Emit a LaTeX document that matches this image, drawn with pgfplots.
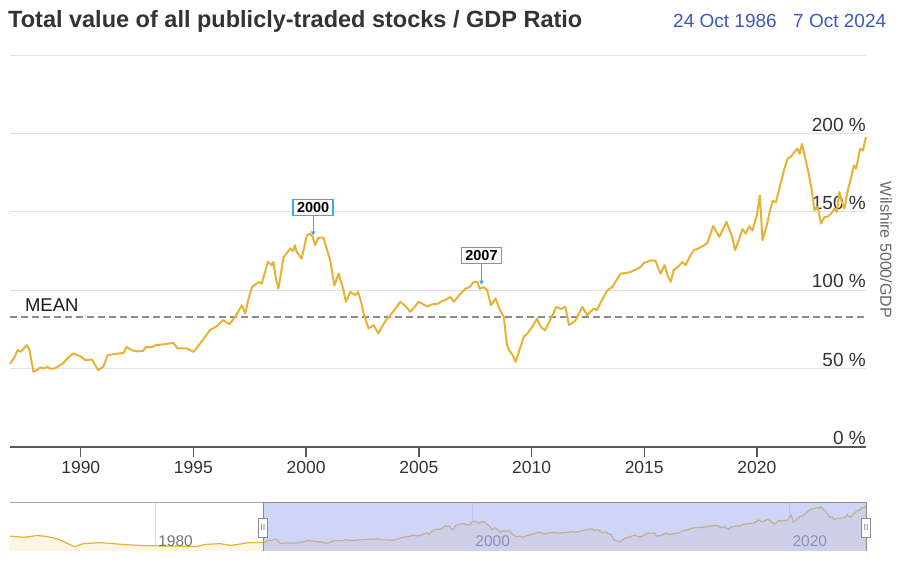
\documentclass[border=0pt]{standalone}
\usepackage{pgfplots}
\pgfplotsset{compat=1.18}
\usepackage{pgfplotstable}
\usepackage{fontspec}
\setmainfont{Liberation Sans}
\usetikzlibrary{arrows.meta}

\definecolor{gold}{RGB}{230,178,52}
\definecolor{gridc}{RGB}{226,226,226}
\definecolor{datec}{RGB}{62,88,190}
\definecolor{annc}{RGB}{60,172,222}
\definecolor{navblue}{RGB}{160,172,240}
\definecolor{navfill}{RGB}{253,246,228}
\definecolor{txt}{RGB}{51,51,51}

\pgfplotstableread{
year val
1986.86 53
1987.05 57
1987.2 61.8
1987.35 60.7
1987.6 65
1987.72 62
1987.9 48
1988.05 49
1988.2 50.8
1988.35 50
1988.5 51.2
1988.65 50
1988.85 50.1
1989.0 51.5
1989.2 53.3
1989.45 57
1989.66 59.7
1989.85 58.5
1989.96 58
1990.2 55.4
1990.5 55.8
1990.65 52
1990.77 49
1991.0 51.2
1991.2 58.6
1991.44 59.2
1991.73 59.7
1991.9 60
1992.03 63.9
1992.25 61.8
1992.5 61
1992.77 61.3
1992.9 63.9
1993.1 63.5
1993.36 65
1993.7 65.5
1994.1 66.4
1994.3 62.9
1994.7 62.9
1995.0 60.7
1995.14 63
1995.4 68
1995.73 74.5
1996.03 77
1996.3 80.9
1996.6 78.3
1996.9 84
1997.14 90.4
1997.3 85.2
1997.45 95
1997.6 102
1997.9 105.3
1998.03 104.2
1998.3 118
1998.47 116
1998.55 118
1998.65 108
1998.77 101
1999.0 121
1999.3 126.6
1999.42 125
1999.5 128.7
1999.58 124.4
1999.8 120.2
2000.03 135
2000.18 136
2000.29 134
2000.4 128.7
2000.55 133.6
2000.77 133.6
2000.9 127
2001.07 119
2001.25 103
2001.44 110.6
2001.66 100
2001.76 92.6
2001.96 98.9
2002.18 96.8
2002.3 98.9
2002.45 92
2002.55 85
2002.77 75.6
2003.0 77.7
2003.2 72.4
2003.36 76.6
2003.55 81
2003.73 84
2003.95 88
2004.18 92.6
2004.4 90
2004.62 86.2
2004.85 90
2004.99 92.6
2005.2 91
2005.36 89.6
2005.6 91
2005.88 91.5
2005.96 92.6
2006.2 94
2006.4 95.7
2006.55 92.6
2006.8 97
2007.07 101
2007.25 102
2007.44 105.3
2007.6 105.3
2007.7 101
2007.88 102
2008.03 100
2008.2 90.4
2008.4 94.7
2008.6 87.3
2008.77 83
2008.9 66
2009.0 61.8
2009.15 59
2009.3 54.3
2009.44 60.7
2009.66 70.3
2009.85 73
2010.03 76.6
2010.25 82
2010.3 79.8
2010.45 76
2010.6 74.5
2010.9 83
2011.1 89.4
2011.3 88
2011.5 89.4
2011.66 77.7
2011.8 79
2011.96 80.9
2012.25 89.4
2012.47 84
2012.6 86
2012.77 88.3
2012.9 87.3
2013.1 93
2013.36 100
2013.58 102
2013.75 106
2013.96 110.6
2014.2 111
2014.4 111.7
2014.6 113
2014.84 114.8
2015.0 117.5
2015.3 119
2015.5 118.7
2015.66 112.7
2015.73 110.6
2015.9 116
2016.05 109
2016.18 105.3
2016.3 112.7
2016.5 115
2016.7 118
2016.84 116
2017.0 121
2017.2 125.5
2017.45 127
2017.66 128.7
2017.8 130
2018.06 141
2018.33 134
2018.5 139
2018.65 143.5
2018.9 134
2019.03 125.5
2019.2 132
2019.36 139
2019.5 136
2019.66 140.8
2019.8 138
2020.0 148
2020.13 160.5
2020.25 132
2020.45 142
2020.55 149
2020.7 157
2020.84 156
2021.07 169
2021.2 176.4
2021.36 183.9
2021.5 185
2021.66 188
2021.8 190.3
2021.9 187
2022.0 193.4
2022.1 187
2022.3 174.3
2022.43 163.7
2022.55 151
2022.7 153
2022.84 142.5
2023.0 146.7
2023.15 147
2023.3 149
2023.44 152
2023.55 150
2023.66 162.6
2023.75 157
2023.88 152
2024.03 163.7
2024.15 170
2024.3 179.6
2024.4 177.5
2024.58 190.3
2024.7 189
2024.84 197.6
}\maindata

\pgfplotstableread{
year val
1970.86 77
1971.8 73
1972.55 80
1973.1 77
1973.84 67
1974.94 36
1975.5 48
1976.6 52
1977.9 45
1979.0 41
1980.26 39
1981.2 39
1982.6 36
1983.2 45
1984.1 48
1984.8 41
1985.94 52
1986.86 53
}\earlydata

\begin{document}
\begin{tikzpicture}
\useasboundingbox (0pt,0pt) rectangle (911pt,566pt);

% title and dates
\node[anchor=base west, inner sep=0pt, text=txt, font=\bfseries\fontsize{23.5}{26}\selectfont] at (8pt,538pt) {Total value of all publicly-traded stocks / GDP Ratio};
\node[anchor=base west, inner sep=0pt, text=datec, font=\fontsize{19}{22}\selectfont] at (673pt,538pt) {24 Oct 1986};
\node[anchor=base west, inner sep=0pt, text=datec, font=\fontsize{19}{22}\selectfont] at (793pt,538pt) {7 Oct 2024};

% y axis title
\node[rotate=-90, inner sep=0pt, text=black!60, font=\fontsize{16}{18}\selectfont] at (886pt,316pt) {Wilshire 5000/GDP};

\begin{axis}[
  at={(10pt,119pt)}, anchor=south west,
  scale only axis, width=856pt, height=392pt,
  xmin=1986.86, xmax=2024.84, ymin=0, ymax=250,
  axis x line*=bottom, axis y line*=right,
  x axis line style={draw=black!65, line width=1.8pt, -},
  y axis line style={draw=none},
  xtick={1990,1995,2000,2005,2010,2015,2020},
  xticklabels={1990,1995,2000,2005,2010,2015,2020},
  xtick align=outside,
  xtick style={draw=black!65, line width=1.4pt},
  major tick length=10pt,
  xticklabel style={text=txt, font=\fontsize{17.5}{20}\selectfont, yshift=-1pt},
  ytick={0,50,100,150,200,250},
  yticklabels={0 \%,50 \%,100 \%,150 \%,200 \%,{}},
  ytick align=inside,
  ytick style={draw=none},
  yticklabel pos=right,
  yticklabel style={anchor=south east, inner xsep=0pt, inner ysep=2pt, text=txt, font=\fontsize{19}{22}\selectfont},
  ymajorgrids,
  major grid style={draw=gridc, line width=1pt},
  clip=false,
]
\addplot[black!45, line width=1.4pt, dash pattern=on 7pt off 4pt] coordinates {(1986.86,83) (2024.84,83)};
\addplot[gold, line width=2pt, line join=round] table[x=year,y=val] {\maindata};
\node[anchor=base west, inner sep=0pt, text=black!90, font=\fontsize{18.5}{20}\selectfont] at (axis cs:1987.52,86.6) {MEAN};
% annotations
\draw[annc, line width=1.1pt, -{Triangle[length=4pt,width=4.5pt]}] (axis cs:2000.31,148) -- (axis cs:2000.31,135);
\node[draw=annc, fill=white, line width=1.3pt, inner sep=0pt, minimum width=40pt, minimum height=16pt, font=\bfseries\fontsize{14.5}{16}\selectfont] at (axis cs:2000.31,152.9) {2000};
\draw[annc, line width=1.1pt, -{Triangle[length=4pt,width=4.5pt]}] (axis cs:2007.78,117) -- (axis cs:2007.78,103.5);
\node[draw=annc, fill=white, line width=1.3pt, inner sep=0pt, minimum width=40pt, minimum height=16pt, font=\bfseries\fontsize{14.5}{16}\selectfont] at (axis cs:2007.78,122) {2007};
\end{axis}

% navigator
\begin{axis}[
  at={(10pt,15pt)}, anchor=south west,
  scale only axis, width=856pt, height=49pt,
  xmin=1970.86, xmax=2024.84, ymin=19, ymax=212,
  axis line style={draw=none},
  xtick={1980,2000,2020}, xticklabels={},
  ytick=\empty,
  tick style={draw=none},
  xmajorgrids, major grid style={draw=black!15, line width=0.8pt},
  clip=false,
]
\addplot[draw=none, fill=navfill] table[x=year,y=val] {\earlydata} \closedcycle;
\addplot[draw=none, fill=navfill] table[x=year,y=val] {\maindata} \closedcycle;
\addplot[gold, line width=1.2pt] table[x=year,y=val] {\earlydata};
\addplot[gold, line width=1.2pt] table[x=year,y=val] {\maindata};
\draw[black!35, line width=0.8pt] (axis cs:1970.86,212) -- (axis cs:2024.84,212);
\node[anchor=base west, inner sep=0pt, text=black!55, font=\fontsize{15.5}{17}\selectfont] at (axis cs:1980.2,35) {1980};
\node[anchor=base west, inner sep=0pt, text=black!55, font=\fontsize{15.5}{17}\selectfont] at (axis cs:2000.2,35) {2000};
\node[anchor=base west, inner sep=0pt, text=black!55, font=\fontsize{15.5}{17}\selectfont] at (axis cs:2020.2,35) {2020};
\fill[navblue, fill opacity=0.5] (axis cs:1986.81,19) rectangle (axis cs:2024.84,212);
\draw[black!45, line width=0.8pt] (axis cs:1986.81,19) -- (axis cs:1986.81,212) -- (axis cs:2024.84,212) -- (axis cs:2024.84,19);
\node[draw=black!45, fill=white, line width=0.8pt, inner sep=0pt, minimum width=9pt, minimum height=19pt, font=\fontsize{9}{10}\selectfont, text=black!50] at (axis cs:1986.81,111) {II};
\node[draw=black!45, fill=white, line width=0.8pt, inner sep=0pt, minimum width=9pt, minimum height=19pt, font=\fontsize{9}{10}\selectfont, text=black!50] at (axis cs:2024.84,111) {II};
\end{axis}
\end{tikzpicture}
\end{document}
